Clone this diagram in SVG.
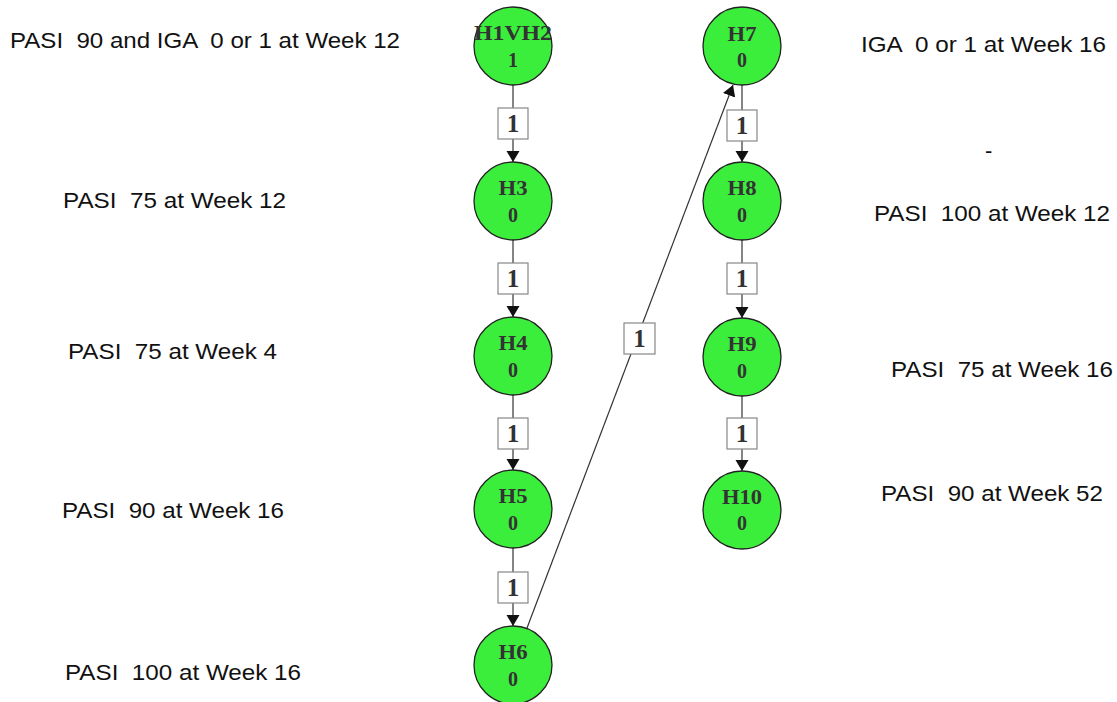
<svg xmlns="http://www.w3.org/2000/svg" width="1117" height="702" viewBox="0 0 1117 702">
<style>
.bg{fill:#fff}
.node circle{fill:#3cee3c;stroke:#222;stroke-width:1.3}
.node text{font-family:"Liberation Serif","DejaVu Serif",serif;font-weight:bold;font-size:20px;fill:#333;text-anchor:middle}
.edge line{stroke:#333;stroke-width:1.2;fill:none}
.lbl rect{fill:#fff;stroke:#888;stroke-width:1.2}
.lbl text{font-family:"Liberation Serif","DejaVu Serif",serif;font-weight:bold;font-size:25px;fill:#333;text-anchor:middle}
.cap{font-family:"Liberation Sans",Arial,sans-serif;font-size:22px;fill:#111;white-space:pre}
</style>
<defs>
<marker id="ah" markerWidth="14" markerHeight="14" refX="11" refY="7" orient="auto" markerUnits="userSpaceOnUse">
<path d="M0,0.5 L11,7 L0,13.5 Z" fill="#111"/>
</marker>
</defs>
<rect class="bg" x="0" y="0" width="1117" height="702"/>

<g id="captions">
<text class="cap" x="10" y="48" textLength="390" lengthAdjust="spacingAndGlyphs">PASI  90 and IGA  0 or 1 at Week 12</text>
<text class="cap" x="63" y="208" textLength="223" lengthAdjust="spacingAndGlyphs">PASI  75 at Week 12</text>
<text class="cap" x="68" y="359" textLength="209" lengthAdjust="spacingAndGlyphs">PASI  75 at Week 4</text>
<text class="cap" x="62" y="518" textLength="222" lengthAdjust="spacingAndGlyphs">PASI  90 at Week 16</text>
<text class="cap" x="65" y="680" textLength="236" lengthAdjust="spacingAndGlyphs">PASI  100 at Week 16</text>
<text class="cap" x="861" y="52" textLength="245" lengthAdjust="spacingAndGlyphs">IGA  0 or 1 at Week 16</text>
<text class="cap" x="985" y="158">-</text>
<text class="cap" x="874" y="221" textLength="236" lengthAdjust="spacingAndGlyphs">PASI  100 at Week 12</text>
<text class="cap" x="891" y="377" textLength="222" lengthAdjust="spacingAndGlyphs">PASI  75 at Week 16</text>
<text class="cap" x="881" y="501" textLength="222" lengthAdjust="spacingAndGlyphs">PASI  90 at Week 52</text>
</g>

<g id="connectors" class="edge">
<line x1="513" y1="85" x2="513" y2="162" marker-end="url(#ah)"/>
<line x1="513" y1="240" x2="513" y2="317" marker-end="url(#ah)"/>
<line x1="513" y1="395" x2="513" y2="470" marker-end="url(#ah)"/>
<line x1="513" y1="548" x2="513" y2="626" marker-end="url(#ah)"/>
<line x1="742" y1="85" x2="742" y2="162" marker-end="url(#ah)"/>
<line x1="742" y1="240" x2="742" y2="318" marker-end="url(#ah)"/>
<line x1="742" y1="396" x2="742" y2="471" marker-end="url(#ah)"/>
<line x1="527" y1="628" x2="733" y2="85" marker-end="url(#ah)"/>
<g class="lbl">
<rect x="498" y="108" width="30" height="31"/><text x="513" y="132">1</text>
<rect x="498" y="263" width="30" height="31"/><text x="513" y="287">1</text>
<rect x="498" y="418" width="30" height="31"/><text x="513" y="442">1</text>
<rect x="498" y="572" width="30" height="31"/><text x="513" y="596">1</text>
<rect x="727" y="110" width="30" height="31"/><text x="742" y="134">1</text>
<rect x="727" y="263" width="30" height="31"/><text x="742" y="287">1</text>
<rect x="727" y="418" width="30" height="31"/><text x="742" y="442">1</text>
<rect x="624" y="323" width="31" height="31"/><text x="639.5" y="347">1</text>
</g>
</g>

<g id="H1VH2" class="node"><circle cx="513" cy="46" r="39"/><text x="513" y="40" textLength="78" lengthAdjust="spacingAndGlyphs">H1VH2</text><text x="513" y="67">1</text></g>
<g id="H3" class="node"><circle cx="513" cy="201" r="39"/><text x="513" y="195" textLength="29" lengthAdjust="spacingAndGlyphs">H3</text><text x="513" y="222">0</text></g>
<g id="H4" class="node"><circle cx="513" cy="356" r="39"/><text x="513" y="350" textLength="29" lengthAdjust="spacingAndGlyphs">H4</text><text x="513" y="377">0</text></g>
<g id="H5" class="node"><circle cx="513" cy="509" r="39"/><text x="513" y="503" textLength="29" lengthAdjust="spacingAndGlyphs">H5</text><text x="513" y="530">0</text></g>
<g id="H6" class="node"><circle cx="513" cy="665" r="39"/><text x="513" y="659" textLength="29" lengthAdjust="spacingAndGlyphs">H6</text><text x="513" y="686">0</text></g>
<g id="H7" class="node"><circle cx="742" cy="46" r="39"/><text x="742" y="41" textLength="29" lengthAdjust="spacingAndGlyphs">H7</text><text x="742" y="67">0</text></g>
<g id="H8" class="node"><circle cx="742" cy="201" r="39"/><text x="742" y="195" textLength="29" lengthAdjust="spacingAndGlyphs">H8</text><text x="742" y="222">0</text></g>
<g id="H9" class="node"><circle cx="742" cy="357" r="39"/><text x="742" y="351" textLength="29" lengthAdjust="spacingAndGlyphs">H9</text><text x="742" y="378">0</text></g>
<g id="H10" class="node"><circle cx="742" cy="510" r="39"/><text x="742" y="504" textLength="40" lengthAdjust="spacingAndGlyphs">H10</text><text x="742" y="530">0</text></g>
</svg>
